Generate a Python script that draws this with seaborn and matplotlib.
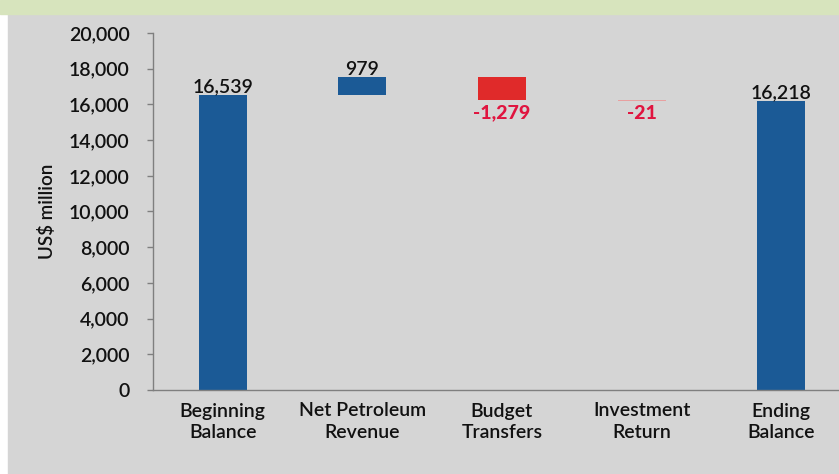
import numpy as np
import pandas as pd
import matplotlib
matplotlib.use("Agg")
import matplotlib.pyplot as plt
import seaborn as sns

# chart data
categories = ["Beginning\nBalance", "Net Petroleum\nRevenue", "Budget\nTransfers",
              "Investment\nReturn", "Ending\nBalance"]
changes = [16539, 979, -1279, -21, 16218]
labels = ["16,539", "979", "-1,279", "-21", "16,218"]

# waterfall bases: totals start at zero, changes start where the running total is
bases = [0]
running = changes[0]
for v in changes[1:-1]:
    bases.append(running)
    running += v
bases.append(0)

blue = "#1b5a96"
red = "#e02a2a"
label_red = "#e0143f"
bar_colors = [blue, blue, red, "#e8a0a0", blue]
text_colors = ["#111111", "#111111", label_red, label_red, "#111111"]

sns.set_style("white")
plt.rcParams["font.family"] = ["Lato", "DejaVu Sans"]
plt.rcParams["font.weight"] = 600

bg = "#d5d5d5"
fig = plt.figure(figsize=(8.39, 4.74), dpi=100, facecolor="white")
# gray panel and green title band
fig.patches.append(plt.Rectangle((8 / 839, 0), 1, (474 - 14) / 474, transform=fig.transFigure,
                                 color=bg, zorder=-2))
fig.patches.append(plt.Rectangle((0, (474 - 14) / 474), 1, 14 / 474, transform=fig.transFigure,
                                 color="#d7e4bd", zorder=-2))

ax = fig.add_axes([153 / 839, 84 / 474, (851 - 153) / 839, 357 / 474])
ax.set_facecolor(bg)

df = pd.DataFrame({"category": categories, "change": changes, "base": bases})
sns.barplot(data=df, x="category", y="change", bottom=df["base"].values, width=0.345,
            color=blue, ax=ax, linewidth=0)
for patch, c in zip(ax.patches, bar_colors):
    patch.set_facecolor(c)
    patch.set_edgecolor("none")

ax.set_ylim(0, 20000)
ax.set_xlim(-0.5, 4.5)
ax.set_yticks(np.arange(0, 20001, 2000))
ax.set_yticklabels([f"{int(v):,}" for v in np.arange(0, 20001, 2000)], fontsize=14,
                   color="#111111", fontweight=600)

# category boundary ticks, labels at the centres
ax.set_xticks(np.arange(-0.5, 5, 1))
ax.set_xticklabels([])
ax.set_xticks(np.arange(5), minor=True)
ax.set_xticklabels(categories, minor=True, fontsize=14, color="#111111", linespacing=1.3,
                   fontweight=600)
ax.tick_params(axis="x", which="major", length=6, width=1, color="#7f7f7f", direction="out")
ax.tick_params(axis="x", which="minor", length=0, pad=9)
ax.tick_params(axis="y", length=4, width=1, color="#7f7f7f", pad=13, left=True)
ax.set_xlabel("")
ax.set_ylabel("US$ million", fontsize=13.5, color="#111111", labelpad=9, fontweight=600)

for s in ["top", "right"]:
    ax.spines[s].set_visible(False)
for s in ["left", "bottom"]:
    ax.spines[s].set_color("#7f7f7f")
    ax.spines[s].set_linewidth(1)

# value labels
for i, (v, b) in enumerate(zip(changes, bases)):
    top = b + v
    if v >= 0:
        ax.annotate(labels[i], (i, top), xytext=(0, 1.5), textcoords="offset points",
                    ha="center", va="baseline", fontsize=14, color=text_colors[i],
                    fontweight=600)
    else:
        ax.annotate(labels[i], (i, top), xytext=(0, -3), textcoords="offset points",
                    ha="center", va="top", fontsize=14, color=text_colors[i], fontweight=900)

fig.savefig("out.png", dpi=100, facecolor=fig.get_facecolor())
